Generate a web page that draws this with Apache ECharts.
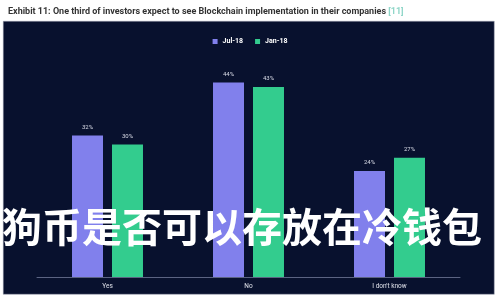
<!DOCTYPE html>
<html>
<head>
<meta charset="utf-8">
<script src="https://cdn.jsdelivr.net/npm/echarts@6/dist/echarts.min.js"></script>
<style>html,body{margin:0;padding:0;background:#fff;}#c{width:500px;height:300px;}</style>
</head>
<body>
<div id="c"></div>
<script>
var categories = ['Yes', 'No', "I don't know"];
var jul18 = [32, 44, 24];
var jan18 = [30, 43, 27];
var seriesNames = ['Jul-18', 'Jan-18'];
var titleText = 'Exhibit 11: One third of investors expect to see Blockchain implementation in their companies';
var titleRef = '[11]';
var watermark = '狗币是否可以存放在冷钱包';

var chart = echarts.init(document.getElementById('c'), null, {renderer: 'canvas'});
var labelCfg = {show: true, position: 'top', distance: 5, color: '#d8dbe6', fontSize: 6, fontFamily: 'Roboto', formatter: '{c}%'};
chart.setOption({
  backgroundColor: '#ffffff',
  animation: false,
  title: {
    text: titleText + ' {r|' + titleRef + '}',
    left: 3, top: 2,
    textStyle: {fontSize: 9, fontWeight: 'bold', color: '#333333', fontFamily: 'Roboto',
      rich: {r: {fontSize: 9, color: '#8fd6c8', fontFamily: 'Roboto'}}}
  },
  graphic: [
    {type: 'rect', left: 3, top: 21, z: -1, shape: {width: 491, height: 273}, style: {fill: '#08112e', stroke: '#9aa0b0', lineWidth: 0.5}},
    {type: 'text', left: 2, top: 207, z: 100, style: {text: watermark, fill: '#ffffff', font: 'bold 40px "Noto Sans CJK SC"'}}
  ],
  legend: {
    data: seriesNames, top: 33, left: 'center', icon: 'rect', itemWidth: 5, itemHeight: 5, itemGap: 12,
    textStyle: {color: '#ffffff', fontSize: 7, fontWeight: 'bold', fontFamily: 'Roboto'}
  },
  grid: {left: 37, right: 40, top: 56, bottom: 23},
  xAxis: {
    type: 'category', data: categories,
    axisLine: {lineStyle: {color: '#5b6382', width: 1}},
    axisTick: {show: false},
    axisLabel: {color: '#e0e2ea', fontSize: 6.5, fontFamily: 'Roboto', margin: 6}
  },
  yAxis: {type: 'value', min: 0, max: 50, show: false, splitLine: {show: false}},
  series: [
    {name: seriesNames[0], type: 'bar', data: jul18, barWidth: 31, barGap: '29%', itemStyle: {color: '#8180ec'}, label: labelCfg},
    {name: seriesNames[1], type: 'bar', data: jan18, barWidth: 31, itemStyle: {color: '#33cc8e'}, label: labelCfg}
  ]
});
</script>
</body>
</html>
